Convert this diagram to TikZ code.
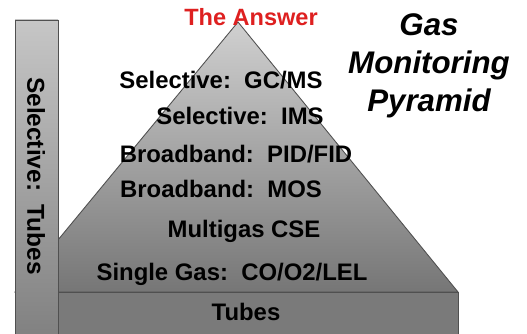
\documentclass[tikz,border=0pt]{standalone}
\usepackage{fontspec}
\setmainfont{Liberation Sans}
\definecolor{pyrTop}{RGB}{208,208,208}
\definecolor{pyrBottom}{RGB}{118,118,118}
\definecolor{barTop}{RGB}{198,198,198}
\definecolor{barBottom}{RGB}{128,128,128}
\definecolor{baseFill}{RGB}{122,122,122}
\definecolor{edgeGray}{RGB}{80,80,80}
\definecolor{answerRed}{RGB}{222,32,32}

\begin{document}
\begin{tikzpicture}[
  x=0.02cm,
  y=-0.02cm,
  block/.style={draw=edgeGray, line width=0.5pt},
  levelLabel/.style={font=\fontsize{13.6}{16}\selectfont\bfseries, text=black, inner sep=0pt},
  barLabel/.style={font=\fontsize{13.9}{16}\selectfont\bfseries, text=black, inner sep=0pt, rotate=-90},
  answerLabel/.style={font=\fontsize{13.4}{16}\selectfont\bfseries, text=answerRed, inner sep=0pt},
  titleLabel/.style={font=\fontsize{17.8}{21.8}\selectfont\bfseries\itshape, align=center, inner sep=0pt}
]
  \useasboundingbox (0,0) rectangle (527,334);
  \clip (0,0) rectangle (527,334);

  % pyramid, base and side bar
  \shade[block, top color=pyrTop, bottom color=pyrBottom]
    (238,22) -- (458,292) -- (15,292) -- cycle;
  \path[block, fill=baseFill] (58,292) rectangle (458,340);
  \shade[block, top color=barTop, bottom color=barBottom]
    (15,20) rectangle (58,340);

  \node[answerLabel] (answer) at (251,17) {The Answer};
  \node[titleLabel] (title) at (429,66) {Gas\\Monitoring\\Pyramid};

  \node[levelLabel] (gcms) at (221,80) {Selective:\ \ GC/MS};
  \node[levelLabel] (ims) at (240,116) {Selective:\ \ IMS};
  \node[levelLabel] (pid) at (236,154) {Broadband:\ \ PID/FID};
  \node[levelLabel] (mos) at (221,189) {Broadband:\ \ MOS};
  \node[levelLabel] (cse) at (244,231) {Multigas CSE};
  \node[levelLabel] (single) at (232,274) {Single Gas:\ \ CO/O2/LEL};
  \node[levelLabel] (tubes) at (246,312) {Tubes};

  \node[barLabel] (selTubes) at (36,176) {Selective:\ \ Tubes};
\end{tikzpicture}
\end{document}
